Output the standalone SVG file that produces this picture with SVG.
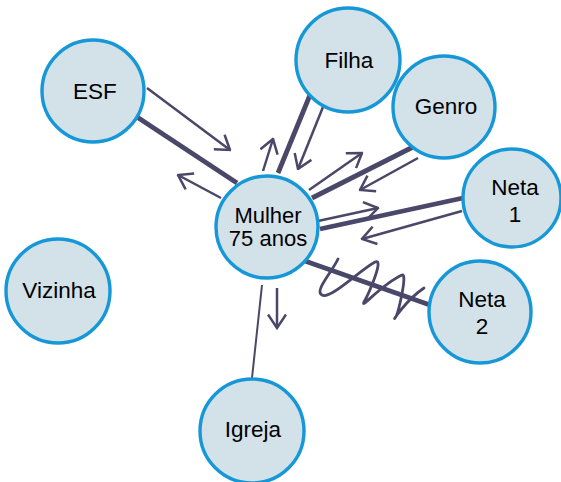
<svg xmlns="http://www.w3.org/2000/svg" width="561" height="482" viewBox="0 0 561 482">
<style>
.node circle{fill:#d3e1e8;stroke:#1597d8;stroke-width:3.4}
.node text{font-family:"Liberation Sans",Arial,sans-serif;font-size:22.5px;fill:#000;text-anchor:middle}
.node text.tight{font-size:22px}
.thick{stroke:#4b4769;stroke-width:4.8;fill:none}
.arrow{stroke:#4b4769;stroke-width:2.5;fill:none;marker-end:url(#ah)}
.thin{stroke:#4b4769;stroke-width:2;fill:none}
.wave{stroke:#4b4769;stroke-width:2.8;fill:none;stroke-linecap:round}
</style>
<defs>
<marker id="ah" viewBox="0 0 16 20" refX="14.5" refY="10" markerWidth="16" markerHeight="20" markerUnits="userSpaceOnUse" orient="auto">
<path d="M1,1 L14.5,10 L1,19" fill="none" stroke="#4b4769" stroke-width="2.5"/>
</marker>
</defs>
<rect width="561" height="482" fill="#fff"/>
<g id="connectors">
<line class="thick" x1="137" y1="117" x2="237" y2="183"/>
<line class="thick" x1="310" y1="95" x2="278" y2="173"/>
<line class="thick" x1="413" y1="147" x2="312" y2="198"/>
<line class="thick" x1="463" y1="198" x2="320" y2="229"/>
<line class="thick" x1="305" y1="261" x2="430" y2="305"/>
<line class="thin" x1="262" y1="285" x2="252" y2="378"/>
<line class="arrow" x1="147" y1="88" x2="230" y2="150"/>
<line class="arrow" x1="221" y1="198" x2="178" y2="175"/>
<line class="arrow" x1="263" y1="171" x2="273" y2="139"/>
<line class="arrow" x1="323" y1="107" x2="298" y2="169"/>
<line class="arrow" x1="309" y1="190" x2="362" y2="153"/>
<line class="arrow" x1="418" y1="158" x2="360" y2="190"/>
<line class="arrow" x1="318" y1="221" x2="378" y2="208"/>
<line class="arrow" x1="462" y1="211" x2="362" y2="239"/>
<line class="arrow" x1="277" y1="288" x2="277" y2="328"/>
<path class="wave" d="M338,259 C332,272 314,291 322,295 C330,300 360,270 375,262 C385,257 368,295 364,302 C360,310 382,284 402,275 C408,272 398,315 395,318 C392,322 406,300 424,288"/>
</g>
<g id="node-esf" class="node"><circle cx="93" cy="91" r="51"/><text x="95" y="99">ESF</text></g>
<g id="node-vizinha" class="node"><circle cx="58" cy="291" r="52"/><text x="59" y="298">Vizinha</text></g>
<g id="node-mulher" class="node"><circle cx="267" cy="227" r="51"/><text class="tight" x="268" y="223">Mulher</text><text class="tight" x="268" y="246">75 anos</text></g>
<g id="node-filha" class="node"><circle cx="348" cy="60" r="52"/><text x="349" y="68">Filha</text></g>
<g id="node-genro" class="node"><circle cx="444" cy="107" r="51"/><text x="446" y="114">Genro</text></g>
<g id="node-neta1" class="node"><circle cx="512" cy="198" r="49"/><text x="515" y="195">Neta</text><text x="515" y="222">1</text></g>
<g id="node-neta2" class="node"><circle cx="480" cy="312" r="51"/><text x="482" y="307">Neta</text><text x="482" y="334">2</text></g>
<g id="node-igreja" class="node"><circle cx="252" cy="431" r="52"/><text x="253" y="437">Igreja</text></g>
</svg>
